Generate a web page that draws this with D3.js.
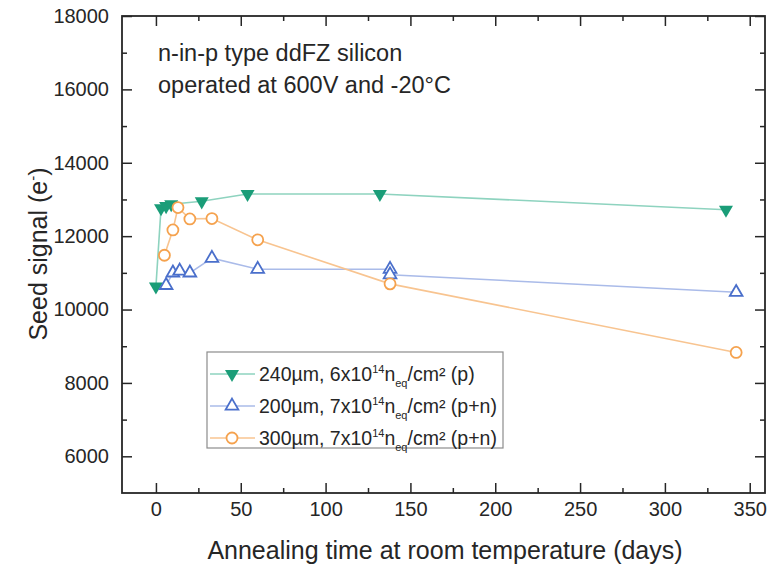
<!DOCTYPE html>
<html>
<head>
<meta charset="utf-8">
<script src="https://cdn.jsdelivr.net/npm/d3@7"></script>
<style>
  body { margin: 0; background: #fff; }
  svg text { font-family: "Liberation Sans", Arial, sans-serif; fill: #262626; }
</style>
</head>
<body>
<div class="chart"></div>
<script>
// data
var greenDays = [0, 3, 6, 9, 27, 54, 132, 336];
var greenSignal = [10630, 12760, 12820, 12870, 12950, 13150, 13150, 12720];

var blueDays = [6, 10, 14, 20, 33, 60, 138, 138, 342];
var blueSignal = [10660, 11000, 11050, 11000, 11400, 11100, 11100, 10950, 10470];

var orangeDays = [5, 10, 13, 20, 33, 60, 138, 342];
var orangeSignal = [11480, 12170, 12780, 12470, 12480, 11900, 10700, 8830];

var xMajor = [0, 50, 100, 150, 200, 250, 300, 350];
var xMinor = [25, 75, 125, 175, 225, 275, 325];
var yMajor = [6000, 8000, 10000, 12000, 14000, 16000, 18000];
var yMinor = [7000, 9000, 11000, 13000, 15000, 17000];

var seriesNames = ["240µm", "200µm", "300µm"];

//margins
var margin = {top: 16, right: 12, bottom: 73, left: 122},
    width = 777 - margin.left - margin.right,
    height = 566 - margin.top - margin.bottom;

var x = d3.scaleLinear().domain([-20, 359]).range([0, width]);
var y = d3.scaleLinear().domain([5000, 18000]).range([height, 0]);

var svg = d3.select(".chart").append("svg")
    .attr("width", 777)
    .attr("height", 566)
    .append("g")
    .attr("transform", "translate(" + margin.left + "," + margin.top + ")");

// axes, ticks pointing inwards on all four sides
function styleAxis(g) {
    g.select(".domain").remove();
    g.selectAll(".tick line").attr("stroke", "#262626").attr("stroke-width", 1.5);
    g.selectAll(".tick text").style("font-size", "20px").attr("fill", "#262626");
}

svg.append("g")
    .attr("transform", "translate(0," + height + ")")
    .call(d3.axisBottom(x).tickValues(xMajor).tickSize(-10).tickPadding(9).tickFormat(d3.format("d")))
    .call(styleAxis);
svg.append("g")
    .attr("transform", "translate(0," + height + ")")
    .call(d3.axisBottom(x).tickValues(xMinor).tickSize(-5).tickFormat(""))
    .call(styleAxis);
svg.append("g")
    .call(d3.axisTop(x).tickValues(xMajor).tickSize(-10).tickFormat(""))
    .call(styleAxis);
svg.append("g")
    .call(d3.axisTop(x).tickValues(xMinor).tickSize(-5).tickFormat(""))
    .call(styleAxis);

svg.append("g")
    .call(d3.axisLeft(y).tickValues(yMajor).tickSize(-10).tickPadding(13).tickFormat(d3.format("d")))
    .call(styleAxis);
svg.append("g")
    .call(d3.axisLeft(y).tickValues(yMinor).tickSize(-5).tickFormat(""))
    .call(styleAxis);
svg.append("g")
    .attr("transform", "translate(" + width + ",0)")
    .call(d3.axisRight(y).tickValues(yMajor).tickSize(-10).tickFormat(""))
    .call(styleAxis);
svg.append("g")
    .attr("transform", "translate(" + width + ",0)")
    .call(d3.axisRight(y).tickValues(yMinor).tickSize(-5).tickFormat(""))
    .call(styleAxis);

// frame
svg.append("rect")
    .attr("width", width)
    .attr("height", height)
    .attr("fill", "none")
    .attr("stroke", "#262626")
    .attr("stroke-width", 1.8);

// axis titles
svg.append("text")
    .attr("x", 445 - margin.left)
    .attr("y", 559 - margin.top)
    .attr("text-anchor", "middle")
    .style("font-size", "25px")
    .text("Annealing time at room temperature (days)");

var yTitle = svg.append("text")
    .attr("transform", "translate(" + (47 - margin.left) + "," + (254 - margin.top) + ") rotate(-90)")
    .attr("text-anchor", "middle")
    .style("font-size", "25px");
yTitle.append("tspan").text("Seed signal (e");
yTitle.append("tspan").attr("dy", -9).style("font-size", "15px").text("-");
yTitle.append("tspan").attr("dy", 9).text(")");

// annotation
svg.append("text")
    .attr("x", 158 - margin.left)
    .attr("y", 61 - margin.top)
    .style("font-size", "23.5px")
    .text("n-in-p type ddFZ silicon");
svg.append("text")
    .attr("x", 158 - margin.left)
    .attr("y", 93 - margin.top)
    .style("font-size", "23.5px")
    .text("operated at 600V and -20°C");

// series
var series = [
    {name: seriesNames[0], days: greenDays, signal: greenSignal, color: "#1a9d78", line: "#8ed3bf", shape: "down"},
    {name: seriesNames[1], days: blueDays, signal: blueSignal, color: "#4a6fcb", line: "#aabbe9", shape: "up"},
    {name: seriesNames[2], days: orangeDays, signal: orangeSignal, color: "#f5a24e", line: "#f8c490", shape: "circle"}
];

var line = d3.line()
    .x(function (d) { return x(d[0]); })
    .y(function (d) { return y(d[1]); });

function drawMarker(g, s, cx, cy) {
    if (s.shape === "circle") {
        g.append("circle")
            .attr("cx", cx).attr("cy", cy).attr("r", 5.5)
            .attr("fill", "#fff").attr("stroke", s.color).attr("stroke-width", 1.8);
    } else if (s.shape === "up") {
        g.append("path")
            .attr("d", d3.symbol(d3.symbolTriangle, 70)())
            .attr("transform", "translate(" + cx + "," + cy + ")")
            .attr("fill", "#fff").attr("stroke", s.color).attr("stroke-width", 1.8);
    } else {
        g.append("path")
            .attr("d", d3.symbol(d3.symbolTriangle, 85)())
            .attr("transform", "translate(" + cx + "," + cy + ") rotate(180)")
            .attr("fill", s.color);
    }
}

// lines first, then markers on top
series.forEach(function (s) {
    var pts = s.days.map(function (d, i) { return [d, s.signal[i]]; });
    s.pts = pts;
    svg.append("path")
        .datum(pts)
        .attr("fill", "none")
        .attr("stroke", s.line)
        .attr("stroke-width", 1.6)
        .attr("d", line);
});
series.forEach(function (s) {
    var g = svg.append("g");
    s.pts.forEach(function (p) {
        drawMarker(g, s, x(p[0]), y(p[1]));
    });
});

//legend
var lg = svg.append("g").attr("transform", "translate(" + (207 - margin.left) + "," + (352 - margin.top) + ")");
lg.append("rect")
    .attr("width", 296)
    .attr("height", 96)
    .attr("fill", "#fff")
    .attr("stroke", "#8c8c8c")
    .attr("stroke-width", 1.2);

var legendText = [
    ["240µm, 6x10", "14", "n", "eq", "/cm² (p)"],
    ["200µm, 7x10", "14", "n", "eq", "/cm² (p+n)"],
    ["300µm, 7x10", "14", "n", "eq", "/cm² (p+n)"]
];

series.forEach(function (s, i) {
    var cy = 22 + i * 32;
    lg.append("line")
        .attr("x1", 3).attr("x2", 48)
        .attr("y1", cy).attr("y2", cy)
        .attr("stroke", s.line).attr("stroke-width", 1.6);
    drawMarker(lg, s, 25, cy);
    var t = lg.append("text")
        .attr("x", 52)
        .attr("y", cy + 7)
        .style("font-size", "19.5px");
    var parts = legendText[i];
    t.append("tspan").text(parts[0]);
    t.append("tspan").attr("dy", -8).style("font-size", "11px").text(parts[1]);
    t.append("tspan").attr("dy", 8).text(parts[2]);
    t.append("tspan").attr("dy", 6).style("font-size", "11px").text(parts[3]);
    t.append("tspan").attr("dy", -6).text(parts[4]);
});
</script>
</body>
</html>
